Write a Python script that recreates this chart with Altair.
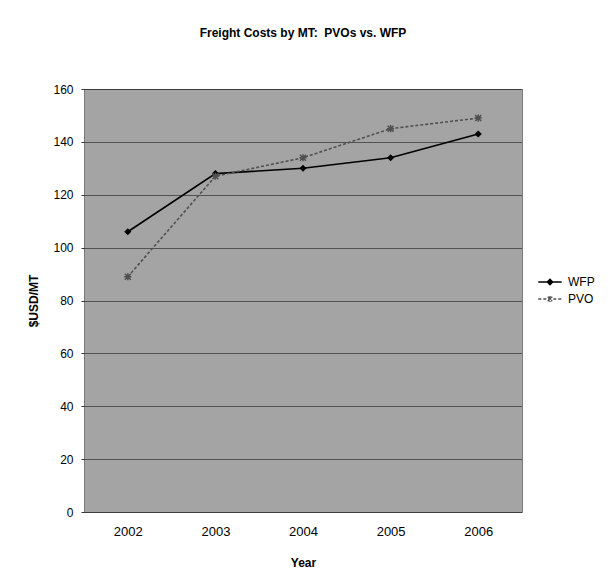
import altair as alt
import pandas as pd

years = ["2002", "2003", "2004", "2005", "2006"]
wfp = [106, 128, 130, 134, 143]
pvo = [89, 127, 134, 145, 149]
series_names = ["WFP", "PVO"]
series_colors = ["#000000", "#505050"]
series_dash = [[1, 0], [3, 2]]

rows = []
for name, vals in zip(series_names, [wfp, pvo]):
    for y, v in zip(years, vals):
        rows.append({"Year": y, "value": v, "series": name})
df = pd.DataFrame(rows)

FONT = "Liberation Sans"

x_enc = alt.X("Year:O", scale=alt.Scale(type="point", padding=0.5),
              axis=alt.Axis(title="Year", labelAngle=0, ticks=False, domain=False,
                            labelFontSize=13, labelPadding=13, titlePadding=19,
                            titleFontSize=12, titleFontWeight="bold", grid=False))
y_enc = alt.Y("value:Q", scale=alt.Scale(domain=[0, 160], nice=False),
              axis=alt.Axis(title="$USD/MT", values=list(range(0, 161, 20)),
                            tickSize=3, tickColor="#333", labelPadding=8,
                            labelFontSize=12, titlePadding=12, titleFontSize=12,
                            titleFontWeight="bold", domain=False,
                            grid=True, gridColor="#000", gridDash=[1, 1], gridOpacity=1))

wfp_line = alt.Chart(df).transform_filter(alt.datum.series == "WFP").mark_line(
    strokeWidth=1.6, color=series_colors[0]
).encode(x=x_enc, y=y_enc)

pvo_line = alt.Chart(df).transform_filter(alt.datum.series == "PVO").mark_line(
    strokeWidth=1.6, color=series_colors[1], strokeDash=series_dash[1]
).encode(x=x_enc, y=y_enc)

wfp_pts = alt.Chart(df).transform_filter(alt.datum.series == "WFP").mark_point(
    shape="diamond", filled=True, size=50, color=series_colors[0], opacity=1
).encode(x=x_enc, y=y_enc)

pvo_pts = alt.Chart(df).transform_filter(alt.datum.series == "PVO").mark_point(
    shape="M-1,-1L1,1M-1,1L1,-1M0,-1.2L0,1.2M-1.2,0L1.2,0", filled=False, size=35,
    color=series_colors[1], strokeWidth=1.5, opacity=1
).encode(x=x_enc, y=y_enc)

legend_shapes = [
    "M-1.3,0L1.3,0M0,-0.3L0.3,0L0,0.3L-0.3,0Z",
    "M-1.3,0L1.3,0M-0.25,-0.25L0.25,0.25M-0.25,0.25L0.25,-0.25M0,-0.32L0,0.32",
]

leg = alt.Legend(title=None, orient="none", legendX=451, legendY=178,
                 padding=5, symbolSize=324, symbolOpacity=1,
                 symbolStrokeWidth=1.5, labelFontSize=12, labelOffset=8, rowPadding=1,
                 labelFont=FONT)

legend_layer = alt.Chart(df).mark_point(filled=True, opacity=0).encode(
    x=x_enc, y=y_enc,
    shape=alt.Shape("series:N", scale=alt.Scale(domain=series_names, range=legend_shapes), legend=leg),
    fill=alt.Fill("series:N", scale=alt.Scale(domain=series_names, range=series_colors), legend=leg),
    stroke=alt.Stroke("series:N", scale=alt.Scale(domain=series_names, range=series_colors), legend=leg),
    strokeDash=alt.StrokeDash("series:N", scale=alt.Scale(domain=series_names, range=series_dash), legend=leg),
)

chart = alt.layer(wfp_line, pvo_line, wfp_pts, pvo_pts, legend_layer).properties(
    width=438, height=423,
    background="white",
    title=alt.TitleParams("Freight Costs by MT:\u00a0 PVOs vs. WFP", anchor="middle",
                          fontSize=12, fontWeight="bold", font=FONT, offset=43),
    autosize=alt.AutoSizeParams(type="none"),
    padding={"left": 76, "top": 81, "right": 83, "bottom": 65},
).configure_view(
    fill="#a4a4a4", stroke="#222", strokeDash=[1, 1], strokeWidth=1
).configure_axis(
    labelFont=FONT, titleFont=FONT, labelColor="#000", titleColor="#000"
)

chart.save("out.html", embed_options={"renderer": "svg", "actions": False})
